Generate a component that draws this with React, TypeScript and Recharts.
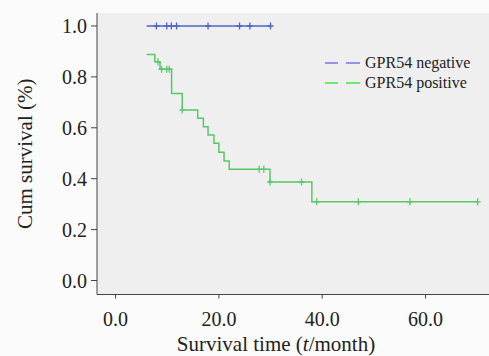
import React from "react";
import {
  ComposedChart, Line, Scatter, XAxis, YAxis, CartesianGrid, Label,
} from "recharts";

// Kaplan-Meier steps (time in months, cumulative survival)
const negSteps = [
  { t: 6.0, s: 1.0 },
  { t: 30.0, s: 1.0 },
];
const negCensored = [
  { t: 7.9, s: 1.0 }, { t: 9.9, s: 1.0 }, { t: 10.8, s: 1.0 }, { t: 11.8, s: 1.0 },
  { t: 17.9, s: 1.0 }, { t: 24.0, s: 1.0 }, { t: 26.0, s: 1.0 }, { t: 30.0, s: 1.0 },
];

const posSteps = [
  { t: 6.0, s: 0.888 },
  { t: 7.6, s: 0.859 },
  { t: 8.6, s: 0.83 },
  { t: 10.85, s: 0.735 },
  { t: 12.9, s: 0.67 },
  { t: 15.9, s: 0.637 },
  { t: 17.0, s: 0.604 },
  { t: 17.9, s: 0.572 },
  { t: 19.05, s: 0.539 },
  { t: 20.0, s: 0.504 },
  { t: 21.0, s: 0.47 },
  { t: 22.0, s: 0.437 },
  { t: 29.9, s: 0.387 },
  { t: 38.0, s: 0.309 },
  { t: 70.1, s: 0.309 },
];
const posCensored = [
  { t: 8.2, s: 0.859 }, { t: 8.9, s: 0.83 }, { t: 9.9, s: 0.83 }, { t: 10.4, s: 0.83 },
  { t: 12.9, s: 0.67 }, { t: 27.8, s: 0.437 }, { t: 28.7, s: 0.437 }, { t: 29.9, s: 0.387 },
  { t: 36.0, s: 0.387 }, { t: 38.95, s: 0.309 }, { t: 47.0, s: 0.309 }, { t: 57.0, s: 0.309 },
  { t: 70.1, s: 0.309 },
];

const xTicks = [0, 20, 40, 60];
const yTicks = [0, 0.2, 0.4, 0.6, 0.8, 1.0];
const legendItems = [
  { name: "GPR54 negative", color: "#7a70ec" },
  { name: "GPR54 positive", color: "#3fe83f" },
];

const NEG = "#5064c8";
const POS = "#58c868";
const FONT = "'Liberation Serif', 'Times New Roman', serif";

const censorMark = (color: string) => (props: any) => {
  const { cx, cy } = props;
  return (
    <g>
      <line x1={cx} x2={cx} y1={cy - 3.5} y2={cy + 3.5} stroke={color} strokeWidth={1.3} />
      <line x1={cx - 3} x2={cx + 3} y1={cy} y2={cy} stroke={color} strokeWidth={1.3} />
    </g>
  );
};

const LegendBox = () => (
  <div style={{ position: "absolute", left: 322, top: 53, fontFamily: FONT, fontSize: 16, color: "#222" }}>
    {legendItems.map((it) => (
      <div key={it.name} style={{ display: "flex", alignItems: "center", height: 20 }}>
        <svg width={40} height={10} style={{ marginRight: 3 }}>
          <line x1={3} x2={16} y1={5} y2={5} stroke={it.color} strokeWidth={1.5} />
          <line x1={24} x2={38} y1={5} y2={5} stroke={it.color} strokeWidth={1.5} />
        </svg>
        <span>{it.name}</span>
      </div>
    ))}
  </div>
);

export default function App() {
  return (
    <div style={{ position: "absolute", left: 0, top: 0, width: 489, height: 356, background: "#fbfbfb" }}>
      <ComposedChart width={489} height={356} margin={{ top: 13, right: 0, bottom: 0, left: 0 }}>
        <CartesianGrid horizontal={false} vertical={false} fill="#efefef" />
        <XAxis
          xAxisId="top" orientation="top" type="number" dataKey="t"
          domain={[-3.6, 72.3]} allowDataOverflow height={0}
          tick={false} tickLine={false} axisLine={{ stroke: "#999" }}
        />
        <XAxis
          type="number" dataKey="t" domain={[-3.6, 72.3]} allowDataOverflow
          ticks={xTicks} height={61.5} tickSize={4} tickMargin={13}
          tickFormatter={(v: number) => v.toFixed(1)}
          tick={{ fontSize: 20, fill: "#222", fontFamily: FONT }}
          axisLine={{ stroke: "#444" }} tickLine={{ stroke: "#444" }}
        >
          <Label
            content={({ viewBox }: any) => (
              <text
                x={viewBox.x + viewBox.width / 2 - 17} y={viewBox.y + viewBox.height - 5}
                textAnchor="middle" fontSize={21} fontFamily={FONT} fill="#222"
              >
                Survival time (<tspan fontStyle="italic">t</tspan>/month)
              </text>
            )}
          />
        </XAxis>
        <YAxis
          type="number" domain={[-0.055, 1.051]} allowDataOverflow ticks={yTicks}
          width={97} tickSize={6} tickMargin={4}
          tickFormatter={(v: number) => v.toFixed(1)}
          tick={{ fontSize: 20, fill: "#222", fontFamily: FONT }}
          axisLine={{ stroke: "#444" }} tickLine={{ stroke: "#444" }}
        >
          <Label
            content={({ viewBox }: any) => {
              const cx = 25;
              const cy = viewBox.y + viewBox.height / 2;
              return (
                <text
                  x={cx} y={cy} transform={`rotate(-90 ${cx} ${cy})`}
                  textAnchor="middle" dominantBaseline="central"
                  fontSize={21} fontFamily={FONT} fill="#222"
                >
                  Cum survival (%)
                </text>
              );
            }}
          />
        </YAxis>
        <Line
          data={negSteps} dataKey="s" type="stepAfter" stroke={NEG} strokeWidth={1.5}
          dot={false} activeDot={false} isAnimationActive={false} legendType="none"
        />
        <Line
          data={posSteps} dataKey="s" type="stepAfter" stroke={POS} strokeWidth={1.5}
          dot={false} activeDot={false} isAnimationActive={false} legendType="none"
        />
        <Scatter data={negCensored} dataKey="s" shape={censorMark(NEG)} isAnimationActive={false} legendType="none" />
        <Scatter data={posCensored} dataKey="s" shape={censorMark(POS)} isAnimationActive={false} legendType="none" />
      </ComposedChart>
      <LegendBox />
    </div>
  );
}
